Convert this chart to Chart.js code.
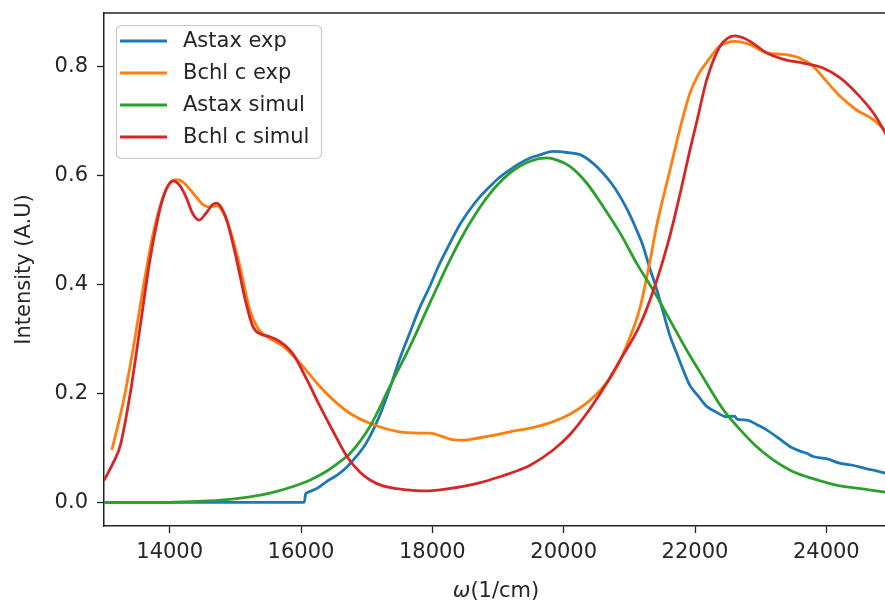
<!DOCTYPE html>
<html><head><meta charset="utf-8">
<script src="https://cdn.jsdelivr.net/npm/chart.js@4.4.0/dist/chart.umd.min.js"></script>
<style>html,body{margin:0;padding:0;background:#fff;overflow:hidden;width:885px;height:606px}</style>
</head><body>
<canvas id="c" width="900" height="606" style="width:900px;height:606px;display:block"></canvas>
<script>
// ---- tick labels ----
const xTicks = [14000, 16000, 18000, 20000, 22000, 24000];
const yTicks = [0.0, 0.2, 0.4, 0.6, 0.8];
const seriesNames = ["Astax exp", "Bchl c exp", "Astax simul", "Bchl c simul"];
const seriesColors = ["#1f77b4", "#ff7f0e", "#2ca02c", "#d62728"];

// ---- Astax exp ----
const astaxExpX = [13000,16050,16070,16100,16250,16390,16550,16700,16850,17000,17200,17355,17500,17660,17800,17960,18100,18270,18420,18570,18720,18880,19030,19180,19330,19490,19650,19840,20050,20250,20430,20600,20730,20860,20990,21110,21210,21310,21420,21520,21620,21720,21820,21920,22050,22180,22330,22480,22600,22650,22790,22950,23090,23270,23450,23600,23700,23800,24000,24200,24400,24600,24750,24950];
const astaxExpY = [0.000,0.000,0.015,0.018,0.026,0.038,0.050,0.065,0.085,0.110,0.160,0.210,0.262,0.312,0.355,0.396,0.435,0.476,0.510,0.537,0.560,0.580,0.597,0.610,0.622,0.632,0.638,0.644,0.642,0.638,0.624,0.604,0.585,0.561,0.532,0.500,0.470,0.430,0.390,0.347,0.305,0.274,0.243,0.215,0.195,0.176,0.165,0.157,0.158,0.152,0.151,0.142,0.133,0.118,0.102,0.094,0.090,0.084,0.080,0.072,0.068,0.062,0.058,0.052];

// ---- Bchl c exp ----
const bchlExpX = [13120,13290,13450,13600,13750,13900,14000,14100,14200,14310,14420,14510,14620,14720,14800,14920,15070,15220,15350,15480,15730,15990,16240,16490,16750,17050,17460,17800,17960,18170,18300,18470,18700,18980,19250,19490,19840,20100,20350,20550,20710,20850,20960,21160,21310,21420,21620,21770,21920,22050,22180,22380,22610,22840,23090,23350,23600,23800,24000,24210,24460,24720,24950];
const bchlExpY = [0.096,0.182,0.286,0.396,0.494,0.561,0.585,0.592,0.588,0.574,0.558,0.546,0.542,0.545,0.535,0.500,0.433,0.353,0.318,0.304,0.286,0.255,0.219,0.188,0.163,0.145,0.130,0.127,0.127,0.120,0.115,0.114,0.118,0.124,0.131,0.136,0.148,0.162,0.182,0.205,0.228,0.258,0.288,0.356,0.440,0.510,0.610,0.685,0.750,0.785,0.808,0.837,0.846,0.840,0.825,0.822,0.815,0.800,0.773,0.745,0.720,0.702,0.676];

// ---- Astax simul ----
const astaxSimX = [13000,14000,14500,14870,15100,15380,15630,15880,16140,16390,16600,16750,17050,17350,17660,17960,18270,18570,18880,19180,19490,19740,19900,20100,20350,20600,20860,21110,21370,21620,21870,22080,22430,22690,22940,23190,23450,23700,23950,24210,24460,24700,24950];
const astaxSimY = [0.000,0.000,0.002,0.005,0.008,0.013,0.020,0.029,0.041,0.057,0.075,0.090,0.139,0.212,0.286,0.365,0.445,0.512,0.567,0.604,0.626,0.632,0.628,0.616,0.586,0.543,0.494,0.439,0.388,0.334,0.280,0.238,0.170,0.133,0.102,0.078,0.059,0.047,0.038,0.030,0.026,0.022,0.018];

// ---- Bchl c simul ----
const bchlSimX = [13000,13150,13250,13400,13550,13700,13850,13950,14050,14150,14250,14350,14450,14550,14650,14720,14800,14870,15020,15150,15270,15400,15500,15680,15880,16090,16290,16490,16700,16900,17050,17250,17460,17700,17960,18200,18470,18730,18980,19250,19490,19840,20100,20350,20600,20860,21160,21370,21620,21780,21920,22030,22180,22380,22500,22610,22720,22840,23090,23350,23650,23950,24210,24460,24720,24950];
const bchlSimY = [0.040,0.075,0.105,0.200,0.322,0.445,0.537,0.575,0.590,0.582,0.560,0.530,0.518,0.530,0.546,0.549,0.538,0.518,0.445,0.372,0.322,0.308,0.305,0.295,0.272,0.225,0.176,0.130,0.084,0.055,0.041,0.030,0.025,0.022,0.021,0.024,0.029,0.036,0.045,0.056,0.068,0.096,0.125,0.163,0.208,0.261,0.325,0.390,0.490,0.570,0.645,0.700,0.776,0.837,0.852,0.856,0.853,0.846,0.825,0.813,0.806,0.797,0.779,0.751,0.714,0.667];

const xs = [astaxExpX, bchlExpX, astaxSimX, bchlSimX];
const ys = [astaxExpY, bchlExpY, astaxSimY, bchlSimY];

const FONT = "'DejaVu Sans', sans-serif";
const FS = 21;
const TXT = '#262626';
const LW = 2.8;

const datasets = seriesNames.map((name, i) => ({
  label: name,
  data: xs[i].map((x, k) => ({x: x, y: ys[i][k]})),
  borderColor: seriesColors[i],
  backgroundColor: seriesColors[i],
  borderWidth: LW,
  pointRadius: 0,
  fill: false,
  tension: 0.4,
  cubicInterpolationMode: 'monotone',
  order: 3 - i
}));

const framePlugin = {
  id: 'frame',
  afterDraw(chart) {
    const {ctx, chartArea: a} = chart;
    ctx.save();
    ctx.strokeStyle = '#222';
    ctx.lineWidth = 1.5;
    ctx.beginPath();
    ctx.moveTo(a.left, a.top);
    ctx.lineTo(a.right, a.top);
    ctx.stroke();
    // x axis label with italic omega
    const p1 = 'ω', p2 = '(1/cm)';
    ctx.fillStyle = TXT;
    ctx.textBaseline = 'middle';
    ctx.textAlign = 'left';
    ctx.font = 'italic ' + FS + 'px ' + FONT;
    const w1 = ctx.measureText(p1).width;
    ctx.font = FS + 'px ' + FONT;
    const w2 = ctx.measureText(p2).width;
    const cx = (a.left + a.right) / 2 - 2;
    const ty = 592;
    let sx = cx - (w1 + w2) / 2;
    ctx.font = 'italic ' + FS + 'px ' + FONT;
    ctx.fillText(p1, sx, ty);
    ctx.font = FS + 'px ' + FONT;
    ctx.fillText(p2, sx + w1, ty);
    // legend
    const x0 = a.left + 12, y0 = a.top + 12, w = 205, h = 133;
    ctx.beginPath();
    ctx.roundRect(x0 + 0.5, y0 + 0.5, w, h, 5);
    ctx.fillStyle = 'rgba(255,255,255,0.8)';
    ctx.fill();
    ctx.strokeStyle = '#cccccc';
    ctx.lineWidth = 1.2;
    ctx.stroke();
    ctx.font = FS + 'px ' + FONT;
    chart.data.datasets.forEach((ds, k) => {
      const cy = y0 + 16 + k * 32;
      ctx.strokeStyle = ds.borderColor;
      ctx.lineWidth = LW;
      ctx.beginPath();
      ctx.moveTo(x0 + 4, cy);
      ctx.lineTo(x0 + 51, cy);
      ctx.stroke();
      ctx.fillStyle = TXT;
      ctx.fillText(ds.label, x0 + 67, cy + 1);
    });
    ctx.restore();
  }
};

new Chart(document.getElementById('c'), {
  type: 'line',
  data: {datasets},
  plugins: [framePlugin],
  options: {
    responsive: false,
    animation: false,
    devicePixelRatio: 1,
    layout: {autoPadding: false, padding: {left: 0, top: 13, right: 8, bottom: 0}},
    plugins: {legend: {display: false}, tooltip: {enabled: false}},
    scales: {
      x: {
        type: 'linear',
        min: 13000, max: 25000,
        afterFit(s) { s.height = 80; s.paddingLeft = 0; s.paddingRight = 0; s.paddingTop = 0; s.paddingBottom = 0; },
        afterBuildTicks(s) { s.ticks = xTicks.map(v => ({value: v})); },
        grid: {drawOnChartArea: false, drawTicks: true, tickLength: 7, tickWidth: 1.3, tickColor: '#222'},
        border: {display: true, color: '#222', width: 1.5},
        ticks: {color: TXT, font: {family: FONT, size: FS}, padding: 7, maxRotation: 0, autoSkip: false,
                callback: v => String(v)},
        title: {display: false}
      },
      y: {
        type: 'linear',
        min: -0.0435, max: 0.898,
        afterFit(s) { s.width = 104; s.paddingTop = 0; s.paddingBottom = 0; s.paddingLeft = 0; s.paddingRight = 0; },
        afterBuildTicks(s) { s.ticks = yTicks.map(v => ({value: v})); },
        grid: {drawOnChartArea: false, drawTicks: true, tickLength: 7, tickWidth: 1.3, tickColor: '#222'},
        border: {display: true, color: '#222', width: 1.5},
        ticks: {color: TXT, font: {family: FONT, size: FS}, padding: 9, autoSkip: false,
                callback: v => v.toFixed(1)},
        title: {display: true, text: 'Intensity (A.U)', color: TXT, font: {family: FONT, size: FS}, padding: {top: 12, bottom: 0}}
      }
    }
  }
});
</script>
</body></html>
